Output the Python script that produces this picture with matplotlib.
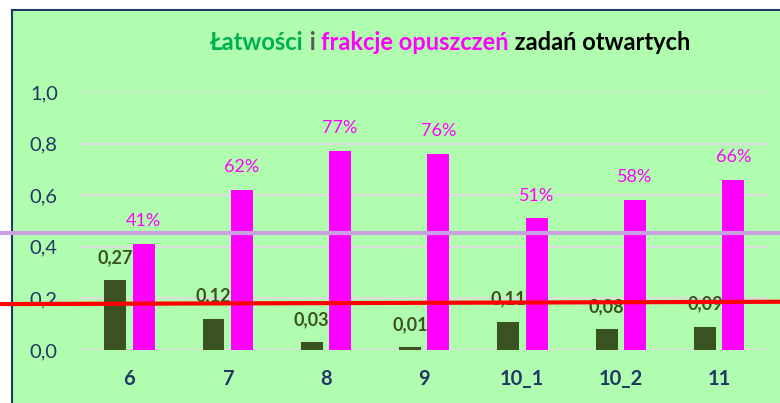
import matplotlib.pyplot as plt
import numpy as np
from matplotlib.patches import Rectangle
from matplotlib.lines import Line2D
from matplotlib import transforms

plt.rcParams['font.family'] = ['Lato', 'DejaVu Sans']

categories = ['6', '7', '8', '9', '10_1', '10_2', '11']
latwosc = [0.27, 0.12, 0.03, 0.01, 0.11, 0.08, 0.09]
opuszczenia = [0.41, 0.62, 0.77, 0.76, 0.51, 0.58, 0.66]
ytick_vals = [0.0, 0.2, 0.4, 0.6, 0.8, 1.0]
purple_level = 0.453
red_level = (0.178, 0.187)

bg = '#b1fdb0'
navy = '#1f3864'
dark_green = '#3b5323'
magenta = '#ff00ff'

W, H = 780, 403
fig = plt.figure(figsize=(W / 100, H / 100), dpi=100)
fig.patch.set_facecolor('white')

# green panel with dark border on left and top
fig.patches.append(Rectangle((12 / W, 0), 1 - 12 / W, (H - 10) / H, transform=fig.transFigure,
                             facecolor=bg, edgecolor='none', zorder=-2))
fig.lines.append(Line2D([12.5 / W, 12.5 / W], [0, (H - 10) / H], transform=fig.transFigure,
                        color=navy, lw=1.5, zorder=-1))
fig.lines.append(Line2D([12.5 / W, 1], [(H - 10) / H, (H - 10) / H], transform=fig.transFigure,
                        color=navy, lw=1.5, zorder=-1))

ax = fig.add_axes([80 / W, 53 / H, 688 / W, 258 / H])
ax.set_zorder(2)
ax.set_facecolor('none')
x = np.arange(len(categories))
bw = 0.223
ax.bar(x - 0.142, latwosc, bw, color=dark_green, zorder=3)
ax.bar(x + 0.147, opuszczenia, bw, color=magenta, zorder=3)

for xi, v in zip(x, latwosc):
    ax.annotate(('%.2f' % v).replace('.', ','), (xi - 0.142, v), xytext=(0, 16.5),
                textcoords='offset points', ha='center', va='center',
                fontsize=13, fontweight='bold', color=dark_green, zorder=4)
for xi, v in zip(x, opuszczenia):
    ax.annotate('%d%%' % round(v * 100), (xi + 0.147, v), xytext=(0, 16.5),
                textcoords='offset points', ha='center', va='center',
                fontsize=13, color=magenta, zorder=4)

ax.set_xlim(-0.5, len(categories) - 0.5)
ax.set_ylim(0, 1.0)
ax.set_yticks(ytick_vals)
ax.set_yticklabels([('%.1f' % v).replace('.', ',') for v in ytick_vals], color=navy, fontsize=14.5)
ax.set_xticks(x)
ax.set_xticklabels(categories, color=navy, fontsize=14.5, fontweight='bold')
ax.tick_params(length=0)
ax.tick_params(axis='y', pad=16)
ax.tick_params(axis='x', pad=14)
for s in ax.spines.values():
    s.set_visible(False)
ax.grid(axis='y', color='#dcdcdc', lw=1.5, zorder=1)
ax.set_axisbelow(True)

# reference lines across the whole figure
tr = transforms.blended_transform_factory(fig.transFigure, ax.transData)
ax.add_line(Line2D([0, 1], [purple_level, purple_level], transform=tr, color='#c9a0e0',
                   lw=3, clip_on=False, zorder=5))
ax.add_line(Line2D([0, 1], list(red_level), transform=tr, color='#ff0000',
                   lw=3, clip_on=False, zorder=5))

# multi-coloured title
parts = [('Łatwości', '#00b050'), (' i ', '#595959'), ('frakcje opuszczeń', magenta),
         (' zadań otwartych', 'black')]
fig.canvas.draw()
r = fig.canvas.get_renderer()
texts = []
for s, c in parts:
    t = fig.text(0, (H - 42) / H, s, color=c, fontsize=17, fontweight='bold', va='center', ha='left')
    texts.append(t)
widths = [t.get_window_extent(r).width for t in texts]
total = sum(widths)
xpos = 450 - total / 2
for t, w in zip(texts, widths):
    t.set_x(xpos / W)
    xpos += w

fig.savefig('out.png', dpi=100)
